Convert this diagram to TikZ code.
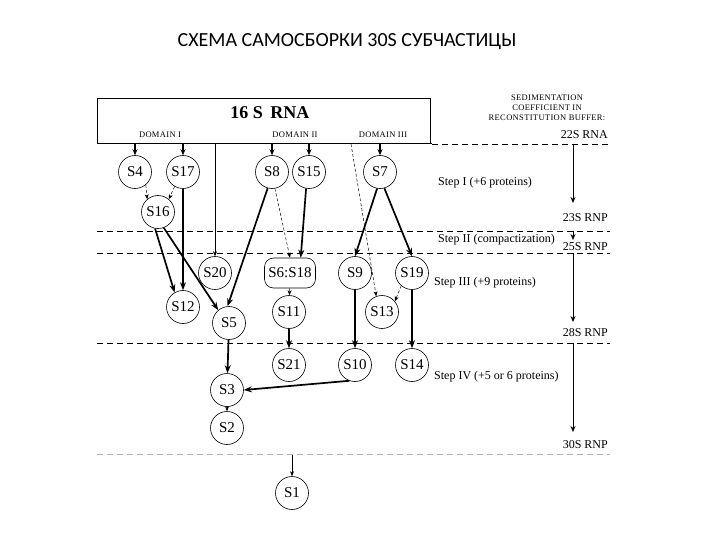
\documentclass[tikz,border=0pt]{standalone}
\usepackage{fontspec}
\setmainfont{Liberation Serif}
\newfontfamily\titlefont{Carlito}
\newfontfamily\capsfont[LetterSpace=4]{Liberation Serif}
\usetikzlibrary{arrows.meta}
\begin{document}
\begin{tikzpicture}[x=1pt,y=-1pt,
  prot/.style={circle,draw,line width=0.6pt,minimum size=33pt,inner sep=0pt,font=\fontsize{15}{15}\selectfont},
  protbox/.style={rounded corners=9pt,draw,line width=0.6pt,minimum width=51pt,minimum height=30pt,inner sep=0pt,font=\fontsize{15}{15}\selectfont},
  strong/.style={line width=1.7pt,-{Stealth[length=8pt,width=6pt]}},
  weak/.style={line width=0.5pt,dashed,dash pattern=on 3pt off 2pt,-{Stealth[length=5pt,width=4pt]}},
  thinline/.style={line width=0.5pt,-{Stealth[length=5pt,width=4pt]}},
  level/.style={line width=0.8pt,dash pattern=on 6pt off 4pt},
  rarrow/.style={line width=0.8pt,-{Stealth[length=6pt,width=5pt]}},
  steplab/.style={anchor=west,font=\fontsize{12}{12}\selectfont,inner sep=0pt},
  sedlab/.style={anchor=east,font=\fontsize{12}{12}\selectfont,inner sep=0pt},
  caplab/.style={font=\capsfont\fontsize{8.5}{8.5}\selectfont,inner sep=0pt}
]
\useasboundingbox (0,0) rectangle (720,540);
\fill[white] (0,0) rectangle (720,540);

% title
\node[font=\titlefont\fontsize{20}{20}\selectfont] (title) at (347,42) {СХЕМА САМОСБОРКИ 30S СУБЧАСТИЦЫ};

% RNA box
\draw[line width=0.8pt] (97,98) -- (430,98);
\draw[line width=0.4pt] (430,98) -- (430,144);
\draw[line width=0.4pt] (97,98) -- (97,144);
\draw[line width=1pt] (97,144) -- (432,144);
\node[font=\bfseries\fontsize{18}{18}\selectfont] (rna) at (270,113) {16 S\, RNA};
\node[caplab] (d1) at (160,135) {DOMAIN I};
\node[caplab] (d2) at (295,135) {DOMAIN II};
\node[caplab] (d3) at (383,135) {DOMAIN III};

% level lines
\draw[level] (432,144) -- (610,144);
\draw[level] (97,231) -- (610,231);
\draw[level] (97,253) -- (610,253);
\draw[level] (97,343) -- (610,343);
\draw[level,gray!60] (97,454) -- (610,454);

% right column
\node[caplab,align=center,font=\capsfont\fontsize{8.5}{10}\selectfont] (sed) at (547,108) {SEDIMENTATION\\COEFFICIENT IN\\RECONSTITUTION BUFFER:};
\node[sedlab] (s22) at (608,135) {22S RNA};
\node[sedlab] (s23) at (608,218) {23S RNP};
\node[sedlab] (s25) at (608,247) {25S RNP};
\node[sedlab] (s28) at (608,333) {28S RNP};
\node[sedlab] (s30) at (608,445) {30S RNP};
\coordinate (a1) at (573,144);
\coordinate (a1e) at (573,203);
\coordinate (a2) at (573,231);
\coordinate (a2e) at (573,240);
\coordinate (a3) at (573,253);
\coordinate (a3e) at (573,322);
\coordinate (a4) at (573,343);
\coordinate (a4e) at (573,432);
\draw[rarrow] (a1) -- (a1e);
\draw[rarrow] (a2) -- (a2e);
\draw[rarrow] (a3) -- (a3e);
\draw[rarrow] (a4) -- (a4e);

\node[steplab] (st1) at (438,183) {Step I (+6 proteins)};
\node[steplab] (st2) at (438,240) {Step II (compactization)};
\node[steplab] (st3) at (434,283) {Step III (+9 proteins)};
\node[steplab] (st4) at (434,377) {Step IV (+5 or 6 proteins)};

% proteins
\node[prot] (S4) at (135,172) {S4};
\node[prot] (S17) at (183,172) {S17};
\node[prot] (S16) at (158,212) {S16};
\node[prot] (S8) at (272,172) {S8};
\node[prot] (S15) at (309,172) {S15};
\node[prot] (S7) at (380,172) {S7};
\node[prot] (S20) at (215,273) {S20};
\node[protbox] (S618) at (290,273) {S6:S18};
\node[prot] (S9) at (355,273) {S9};
\node[prot] (S19) at (412,273) {S19};
\node[prot] (S12) at (183,307) {S12};
\node[prot] (S5) at (229,323) {S5};
\node[prot] (S11) at (289,312) {S11};
\node[prot] (S13) at (382,312) {S13};
\node[prot] (S21) at (289,365) {S21};
\node[prot] (S10) at (355,365) {S10};
\node[prot] (S14) at (412,365) {S14};
\node[prot] (S3) at (227,390) {S3};
\node[prot] (S2) at (227,428) {S2};
\node[prot] (S1) at (292,493) {S1};

% from RNA
\coordinate (r4) at (135,144);
\coordinate (r17) at (183,144);
\coordinate (r8) at (272,144);
\coordinate (r15) at (309,144);
\coordinate (r7) at (380,144);
\coordinate (r20) at (215,144);
\coordinate (r13) at (351,144);
\draw[line width=1.4pt,-{Stealth[length=6pt,width=5pt]}] (r4) -- (S4);
\draw[line width=1.4pt,-{Stealth[length=6pt,width=5pt]}] (r17) -- (S17);
\draw[line width=1.4pt,-{Stealth[length=6pt,width=5pt]}] (r8) -- (S8);
\draw[line width=1.4pt,-{Stealth[length=6pt,width=5pt]}] (r15) -- (S15);
\draw[line width=1.4pt,-{Stealth[length=6pt,width=5pt]}] (r7) -- (S7);
\draw[thinline] (r20) -- (S20);
\draw[weak] (r13) -- (S13.110);

% interactions
\draw[weak] (S4.-50) -- (S16.130);
\draw[weak] (S17.-120) -- (S16.50);
\draw[strong] (S17) -- (S12);
\draw[strong] (S16.-100) -- (S12.120);
\draw[strong] (S16.-70) -- (S5.130);
\draw[strong] (S8.-105) -- (S5.95);
\draw[weak] (S8.-80) -- (S618.north);
\draw[strong] (S15.-100) -- (S618.55);
\draw[strong] (S7.-100) -- (S9.north);
\draw[strong] (S7.-75) -- (S19.north);
\draw[weak] (S19.-130) -- (S13.40);
\draw[weak] (S618) -- (S11);
\draw[strong] (S11) -- (S21);
\draw[strong] (S9) -- (S10);
\draw[strong] (S19) -- (S14);
\draw[strong] (S5) -- (S3);
\draw[strong] (S10.-110) -- (S3.east);
\draw[weak] (S3) -- (S2);
\coordinate (c1) at (292,455);
\draw[thinline] (c1) -- (S1);
\end{tikzpicture}
\end{document}
